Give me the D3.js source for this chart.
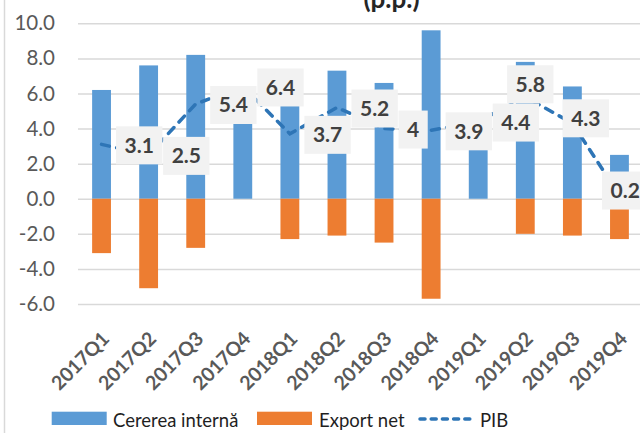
<!DOCTYPE html>
<html>
<head>
<meta charset="utf-8">
<script src="https://cdn.jsdelivr.net/npm/d3@7"></script>
<style>
  body { margin: 0; background: #fff; }
  #chart { width: 640px; height: 433px; overflow: hidden; }
  text { font-family: Lato, sans-serif; }
</style>
</head>
<body>
<div id="chart"></div>
<script>
// data (contributii la cresterea PIB, p.p.)
const quarters = ['2017Q1', '2017Q2', '2017Q3', '2017Q4', '2018Q1', '2018Q2',
    '2018Q3', '2018Q4', '2019Q1', '2019Q2', '2019Q3', '2019Q4'];
const cerereaInterna = [6.2, 7.6, 8.2, 6.3, 6.0, 7.3, 6.6, 9.6, 4.4, 7.8, 6.4, 2.5];
const exportNet = [-3.1, -5.1, -2.8, 0, -2.3, -2.1, -2.5, -5.7, 0, -2.0, -2.1, -2.3];
const pib = [3.1, 2.5, 5.4, 6.4, 3.7, 5.2, 4, 3.9, 4.4, 5.8, 4.3, 0.2];
const yTicks = [-6, -4, -2, 0, 2, 4, 6, 8, 10];
const seriesNames = ['Cererea internă', 'Export net', 'PIB'];

// labels that were dragged away from the default "right" spot: [dx, dy] of the box centre
const labelMoved = [null, null, null, null, null, null, null, null, null,
    [5, -12.7], [13.5, -5], [5.7, -4.7]];

const blue = '#5b9bd5';
const orange = '#ed7d31';
const lineBlue = '#2e75b6';
const grid = '#d9d9d9';

const width = 640;
const height = 433;
const plotL = 78;
const plotR = 643;

const svg = d3.select('#chart')
    .append('svg')
    .attr('width', width)
    .attr('height', height);

const rows = quarters.map((q, i) => ({
    q: q,
    cerere: cerereaInterna[i],
    exp: exportNet[i],
    pib: pib[i],
    moved: labelMoved[i]
}));

const x = d3.scaleBand()
    .domain(quarters)
    .range([plotL, plotR])
    .paddingInner(0.6)
    .paddingOuter(0.3);

const y = d3.scaleLinear()
    .domain([-6, 10])
    .range([304, 23.3]);

const cx = d => x(d.q) + x.bandwidth() / 2;

// chart area border (only the left edge is in the picture)
svg.append('line')
    .attr('x1', 4.5).attr('x2', 4.5)
    .attr('y1', 0).attr('y2', height)
    .attr('stroke', grid)
    .attr('stroke-width', 1.5);

// title, mostly cut off at the top
svg.append('text')
    .attr('x', 391.5)
    .attr('y', 8)
    .attr('text-anchor', 'middle')
    .style('font-size', '26px')
    .style('font-weight', 700)
    .style('fill', '#262626')
    .text('(p.p.)');

// y axis + gridlines
const yAxis = svg.append('g')
    .attr('transform', `translate(${plotL},0)`)
    .call(d3.axisLeft(y)
        .tickValues(yTicks)
        .tickFormat(d => d.toFixed(1))
        .tickSize(-(plotR - plotL))
        .tickPadding(23));

yAxis.select('.domain').remove();
yAxis.selectAll('.tick line')
    .attr('stroke', grid)
    .attr('stroke-width', 1.5);
yAxis.selectAll('.tick text')
    .style('font-size', '20.5px')
    .style('font-family', 'Lato, sans-serif')
    .style('fill', '#595959');

// bars
const bars = svg.append('g');

bars.selectAll('.cerere')
    .data(rows)
    .join('rect')
    .attr('class', 'cerere')
    .attr('x', d => x(d.q))
    .attr('width', x.bandwidth())
    .attr('y', d => y(Math.max(0, d.cerere)))
    .attr('height', d => Math.abs(y(d.cerere) - y(0)))
    .attr('fill', blue);

bars.selectAll('.export')
    .data(rows)
    .join('rect')
    .attr('class', 'export')
    .attr('x', d => x(d.q))
    .attr('width', x.bandwidth())
    .attr('y', d => y(Math.max(0, d.exp)))
    .attr('height', d => Math.abs(y(d.exp) - y(0)))
    .attr('fill', orange);

// pib line
const line = d3.line()
    .x(cx)
    .y(d => y(d.pib));

svg.append('path')
    .datum(rows)
    .attr('d', line)
    .attr('fill', 'none')
    .attr('stroke', lineBlue)
    .attr('stroke-width', 3.5)
    .attr('stroke-linecap', 'round')
    .attr('stroke-dasharray', '8,7.5');

// data labels with grey boxes
const labels = svg.append('g')
    .selectAll('g')
    .data(rows)
    .join('g');

labels.each(function(d) {
    const g = d3.select(this);
    const t = g.append('text')
        .attr('text-anchor', 'middle')
        .attr('dy', '0.35em')
        .style('font-size', '21px')
        .style('font-weight', 700)
        .style('fill', '#404040')
        .text(String(d.pib));
    const tw = t.node().getComputedTextLength();
    const bw = tw + 17;
    const bh = 38;
    let px, py;
    if (d.moved) {
        px = cx(d) + d.moved[0];
        py = y(d.pib) + d.moved[1];
    } else {
        px = cx(d) + 14.5 + bw / 2;
        py = y(d.pib) + 1;
    }
    t.attr('x', px).attr('y', py);
    g.insert('rect', 'text')
        .attr('x', px - bw / 2)
        .attr('y', py - bh / 2)
        .attr('width', bw)
        .attr('height', bh)
        .attr('fill', '#f2f2f2');
});

// category labels, rotated
svg.append('g')
    .selectAll('text')
    .data(rows)
    .join('text')
    .attr('transform', d => `translate(${cx(d) + 9},340) rotate(-45)`)
    .attr('text-anchor', 'end')
    .style('font-size', '19.5px')
    .style('font-weight', 700)
    .style('fill', '#595959')
    .text(d => d.q);

// legend
const legend = svg.append('g');

legend.append('rect')
    .attr('x', 51.7).attr('y', 411.7)
    .attr('width', 55).attr('height', 13.3)
    .attr('fill', blue);

legend.append('rect')
    .attr('x', 257).attr('y', 411.7)
    .attr('width', 55).attr('height', 13.3)
    .attr('fill', orange);

legend.append('line')
    .attr('x1', 420).attr('x2', 472)
    .attr('y1', 419).attr('y2', 419)
    .attr('stroke', lineBlue)
    .attr('stroke-width', 3.5)
    .attr('stroke-linecap', 'round')
    .attr('stroke-dasharray', '5,6.2');

legend.selectAll('.leg')
    .data(seriesNames)
    .join('text')
    .attr('class', 'leg')
    .attr('x', (d, i) => [113, 319, 480][i])
    .attr('y', 426.7)
    .style('font-size', '18.5px')
    .style('fill', '#1f1f1f')
    .text(d => d);
</script>
</body>
</html>
